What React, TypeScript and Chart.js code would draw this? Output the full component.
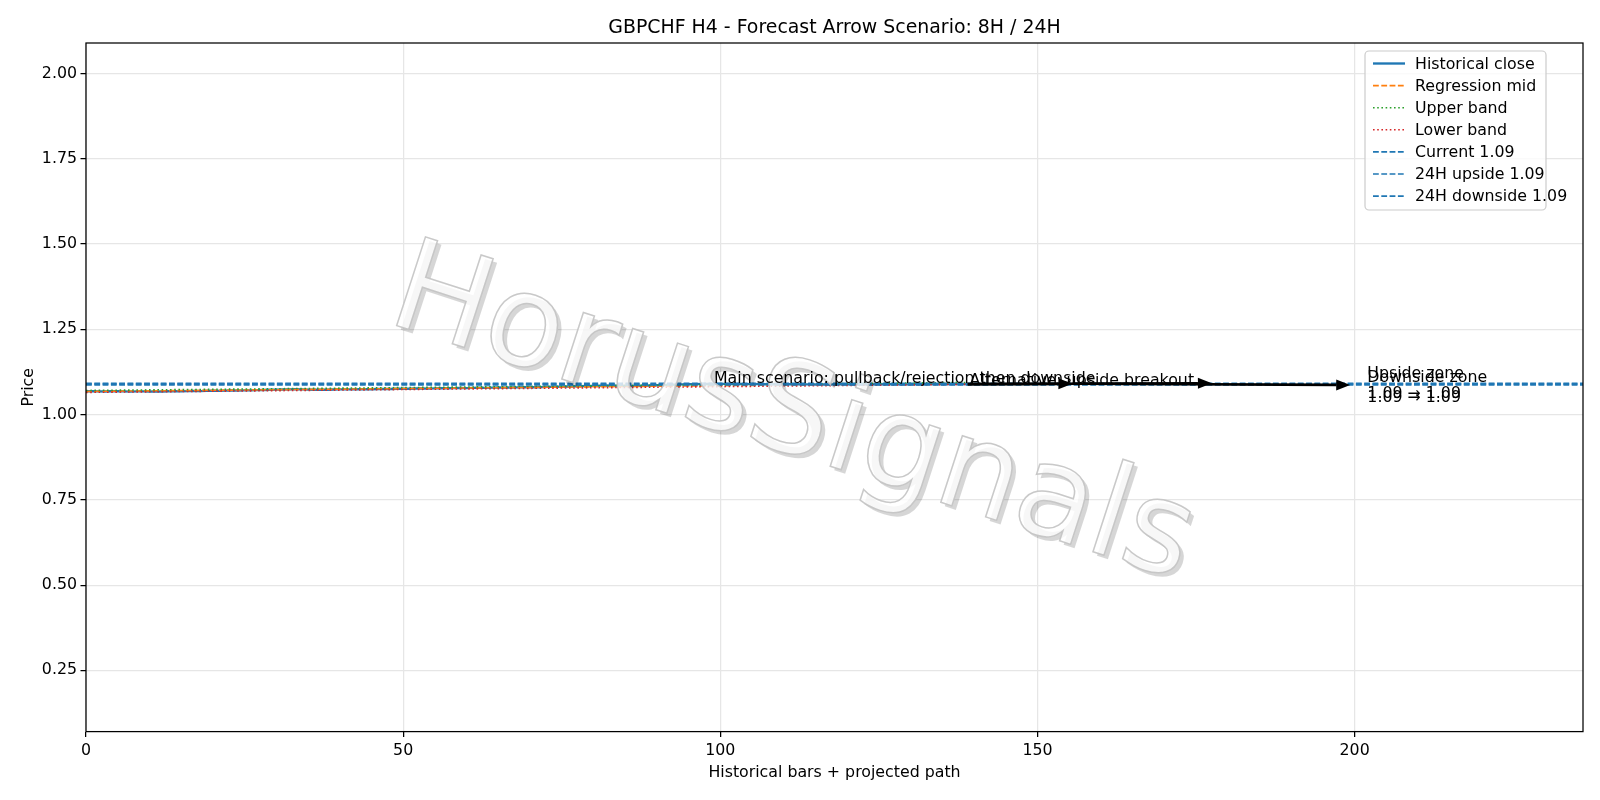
import { useEffect, useRef } from 'react';
import { Chart, registerables } from 'chart.js';

Chart.register(...registerables);

const FONT = '"DejaVu Sans", sans-serif';

// H4 closes, bars 0..139
const historicalClose = [
  1.0685, 1.0688, 1.0682, 1.0679, 1.0684, 1.0687, 1.0681, 1.0676, 1.0680, 1.0683,
  1.0678, 1.0674, 1.0679, 1.0685, 1.0688, 1.0683, 1.0690, 1.0694, 1.0691, 1.0697,
  1.0699, 1.0695, 1.0702, 1.0706, 1.0703, 1.0709, 1.0712, 1.0718, 1.0722, 1.0728,
  1.0731, 1.0736, 1.0741, 1.0745, 1.0738, 1.0733, 1.0729, 1.0734, 1.0730, 1.0736,
  1.0739, 1.0742, 1.0738, 1.0744, 1.0748, 1.0745, 1.0751, 1.0756, 1.0752, 1.0758,
  1.0762, 1.0759, 1.0765, 1.0768, 1.0764, 1.0771, 1.0775, 1.0772, 1.0778, 1.0781,
  1.0779, 1.0784, 1.0788, 1.0785, 1.0791, 1.0794, 1.0790, 1.0796, 1.0799, 1.0803,
  1.0806, 1.0802, 1.0808, 1.0812, 1.0816, 1.0821, 1.0825, 1.0829, 1.0834, 1.0839,
  1.0845, 1.0851, 1.0856, 1.0852, 1.0846, 1.0841, 1.0838, 1.0843, 1.0849, 1.0855,
  1.0862, 1.0869, 1.0875, 1.0881, 1.0886, 1.0891, 1.0895, 1.0898, 1.0902, 1.0899,
  1.0903, 1.0900, 1.0896, 1.0899, 1.0894, 1.0897, 1.0893, 1.0890, 1.0894, 1.0891,
  1.0888, 1.0892, 1.0889, 1.0885, 1.0888, 1.0884, 1.0887, 1.0883, 1.0886, 1.0890,
  1.0887, 1.0884, 1.0888, 1.0891, 1.0887, 1.0885, 1.0889, 1.0892, 1.0888, 1.0886,
  1.0890, 1.0893, 1.0889, 1.0892, 1.0895, 1.0891, 1.0894, 1.0897, 1.0893, 1.0895,
];

const regressionX = [0, 139];
const regressionMid = [1.068, 1.0915];
const upperBand = [1.0708, 1.0943];
const lowerBand = [1.0652, 1.0887];

const levelX = [0, 236];
const currentPrice = 1.0895;
const upsideTarget = 1.0921;
const downsideTarget = 1.0869;

// projected path arrows
const arrowFromX = [139, 155.5, 139];
const arrowFromY = [1.0895, 1.0905, 1.0895];
const arrowToX = [155.5, 199.3, 177.5];
const arrowToY = [1.0905, 1.0869, 1.0921];

const noteTexts = [
  'Main scenario: pullback/rejection then downside',
  'Alternative: upside breakout',
  `Upside zone\n${currentPrice.toFixed(2)} → ${upsideTarget.toFixed(2)}`,
  `Downside zone\n${currentPrice.toFixed(2)} → ${downsideTarget.toFixed(2)}`,
];
const noteX = [99, 139.3, 202, 202];
const noteY = [1.0925, 1.0865, 1.1075, 1.0955];

const xTicks = [0, 50, 100, 150, 200];
const yTicks = [0.25, 0.5, 0.75, 1.0, 1.25, 1.5, 1.75, 2.0];

const TITLE = 'GBPCHF H4 - Forecast Arrow Scenario: 8H / 24H';
const X_LABEL = 'Historical bars + projected path';
const Y_LABEL = 'Price';
const WATERMARK = 'HorusSignals';

const DASHED = [5.8, 2.5];
const DOTTED = [1.6, 2.6];
const FS = 15.8;

const xy = (xs: number[], ys: number[]) => xs.map((x, i) => ({ x, y: ys[i] }));

const decorPlugin = {
  id: 'decor',
  afterDatasetsDraw(chart: any) {
    const { ctx, scales } = chart;
    const sx = scales.x;
    const sy = scales.y;

    // watermark
    ctx.save();
    ctx.font = `128px ${FONT}`;
    ctx.textAlign = 'center';
    ctx.textBaseline = 'middle';
    const ang = (18 * Math.PI) / 180;
    ctx.save();
    ctx.translate(796, 423);
    ctx.rotate(ang);
    ctx.fillStyle = 'rgba(0,0,0,0.16)';
    ctx.fillText(WATERMARK, 0, 0);
    ctx.restore();
    ctx.translate(792, 419);
    ctx.rotate(ang);
    ctx.fillStyle = 'rgba(255,255,255,0.8)';
    ctx.fillText(WATERMARK, 0, 0);
    ctx.lineWidth = 1.5;
    ctx.strokeStyle = 'rgba(195,195,195,0.9)';
    ctx.strokeText(WATERMARK, 0, 0);
    ctx.restore();

    // arrows
    ctx.save();
    ctx.strokeStyle = '#000';
    ctx.fillStyle = '#000';
    ctx.lineWidth = 2.7;
    for (let i = 0; i < arrowFromX.length; i++) {
      const x0 = sx.getPixelForValue(arrowFromX[i]);
      const y0 = sy.getPixelForValue(arrowFromY[i]);
      const x1 = sx.getPixelForValue(arrowToX[i]);
      const y1 = sy.getPixelForValue(arrowToY[i]);
      const a = Math.atan2(y1 - y0, x1 - x0);
      const hl = 14;
      const hw = 5.5;
      ctx.beginPath();
      ctx.moveTo(x0, y0);
      ctx.lineTo(x1 - hl * Math.cos(a), y1 - hl * Math.sin(a));
      ctx.stroke();
      ctx.beginPath();
      ctx.moveTo(x1, y1);
      ctx.lineTo(x1 - hl * Math.cos(a) - hw * Math.sin(a), y1 - hl * Math.sin(a) + hw * Math.cos(a));
      ctx.lineTo(x1 - hl * Math.cos(a) + hw * Math.sin(a), y1 - hl * Math.sin(a) - hw * Math.cos(a));
      ctx.closePath();
      ctx.fill();
    }
    ctx.restore();

    // notes
    ctx.save();
    ctx.font = `${FS}px ${FONT}`;
    ctx.fillStyle = '#000';
    ctx.textAlign = 'left';
    ctx.textBaseline = 'alphabetic';
    noteTexts.forEach((t, i) => {
      const px = sx.getPixelForValue(noteX[i]);
      const py = sy.getPixelForValue(noteY[i]);
      t.split('\n').forEach((line, j) => ctx.fillText(line, px, py + j * 20.4));
    });
    ctx.restore();
  },
  afterDraw(chart: any) {
    const { ctx, chartArea } = chart;
    const { left, top, right, bottom } = chartArea;

    // frame
    ctx.save();
    ctx.strokeStyle = '#000';
    ctx.lineWidth = 1.25;
    ctx.strokeRect(left, top, right - left, bottom - top);
    ctx.restore();

    // titles
    ctx.save();
    ctx.fillStyle = '#000';
    ctx.textAlign = 'center';
    ctx.textBaseline = 'alphabetic';
    ctx.font = `18.9px ${FONT}`;
    ctx.fillText(TITLE, (left + right) / 2, 33);
    ctx.font = `${FS}px ${FONT}`;
    ctx.fillText(X_LABEL, (left + right) / 2, 777);
    ctx.translate(33, (top + bottom) / 2);
    ctx.rotate(-Math.PI / 2);
    ctx.fillText(Y_LABEL, 0, 0);
    ctx.restore();

    // legend
    const sets = chart.data.datasets;
    const bw = 181;
    const bh = 159;
    const bx = right - 37 - bw;
    const by = top + 8;
    ctx.save();
    ctx.beginPath();
    ctx.roundRect(bx, by, bw, bh, 4);
    ctx.fillStyle = 'rgba(255,255,255,0.8)';
    ctx.fill();
    ctx.strokeStyle = '#cccccc';
    ctx.lineWidth = 1.2;
    ctx.stroke();
    ctx.font = `${FS}px ${FONT}`;
    ctx.textAlign = 'left';
    ctx.textBaseline = 'middle';
    sets.forEach((d: any, i: number) => {
      const ry = by + 12.5 + i * 22.1;
      ctx.save();
      ctx.strokeStyle = d.borderColor;
      ctx.lineWidth = d.borderWidth;
      ctx.setLineDash(d.borderDash || []);
      ctx.beginPath();
      ctx.moveTo(bx + 8, ry);
      ctx.lineTo(bx + 40, ry);
      ctx.stroke();
      ctx.restore();
      ctx.fillStyle = '#000';
      ctx.fillText(d.label, bx + 50, ry + 1);
    });
    ctx.restore();
  },
};

export default function App() {
  const canvasRef = useRef<HTMLCanvasElement>(null);

  useEffect(() => {
    document.body.style.margin = '0';
    const ctx = canvasRef.current!.getContext('2d')!;

    const datasets: any[] = [
      {
        label: 'Historical close',
        data: historicalClose.map((y, i) => ({ x: i, y })),
        borderColor: '#1f77b4',
        borderWidth: 2.35,
      },
      {
        label: 'Regression mid',
        data: xy(regressionX, regressionMid),
        borderColor: '#ff7f0e',
        borderWidth: 1.6,
        borderDash: DASHED,
      },
      {
        label: 'Upper band',
        data: xy(regressionX, upperBand),
        borderColor: '#2ca02c',
        borderWidth: 1.6,
        borderDash: DOTTED,
      },
      {
        label: 'Lower band',
        data: xy(regressionX, lowerBand),
        borderColor: '#d62728',
        borderWidth: 1.6,
        borderDash: DOTTED,
      },
      {
        label: `Current ${currentPrice.toFixed(2)}`,
        data: xy(levelX, [currentPrice, currentPrice]),
        borderColor: '#1f77b4',
        borderWidth: 1.6,
        borderDash: DASHED,
      },
      {
        label: `24H upside ${upsideTarget.toFixed(2)}`,
        data: xy(levelX, [upsideTarget, upsideTarget]),
        borderColor: '#1f77b4',
        borderWidth: 1.6,
        borderDash: DASHED,
      },
      {
        label: `24H downside ${downsideTarget.toFixed(2)}`,
        data: xy(levelX, [downsideTarget, downsideTarget]),
        borderColor: '#1f77b4',
        borderWidth: 1.6,
        borderDash: DASHED,
      },
    ];
    datasets.forEach((d, i) => {
      d.pointRadius = 0;
      d.tension = 0;
      d.fill = false;
      d.order = datasets.length - i;
    });

    const tickFont = { family: FONT, size: FS };
    const grid = {
      color: '#e6e6e6',
      lineWidth: 1.25,
      tickColor: '#000',
      tickLength: 5.5,
      tickWidth: 1.25,
    };

    const chart = new Chart(ctx, {
      type: 'line',
      data: { datasets },
      options: {
        animation: false,
        responsive: true,
        maintainAspectRatio: false,
        layout: { padding: { top: 43, right: 17, left: 0, bottom: 0 } },
        plugins: {
          legend: { display: false },
          title: { display: false },
          tooltip: { enabled: false },
        },
        scales: {
          x: {
            type: 'linear',
            min: 0,
            max: 236,
            afterBuildTicks: (s: any) => {
              s.ticks = xTicks.map((v) => ({ value: v }));
            },
            afterFit: (s: any) => {
              s.height = 68.4;
            },
            grid,
            border: { display: false },
            ticks: {
              color: '#000',
              font: tickFont,
              padding: 4,
              maxRotation: 0,
              autoSkip: false,
              callback: (v: any) => String(v),
            },
          },
          y: {
            type: 'linear',
            min: 0.0705,
            max: 2.0897,
            afterBuildTicks: (s: any) => {
              s.ticks = yTicks.map((v) => ({ value: v }));
            },
            afterFit: (s: any) => {
              s.width = 86;
            },
            grid,
            border: { display: false },
            ticks: {
              color: '#000',
              font: tickFont,
              padding: 3.5,
              autoSkip: false,
              callback: (v: any) => Number(v).toFixed(2),
            },
          },
        },
      } as any,
      plugins: [decorPlugin],
    });

    return () => {
      chart.destroy();
    };
  }, []);

  return (
    <div style={{ position: 'relative', width: 1600, height: 800 }}>
      <canvas ref={canvasRef} />
    </div>
  );
}
